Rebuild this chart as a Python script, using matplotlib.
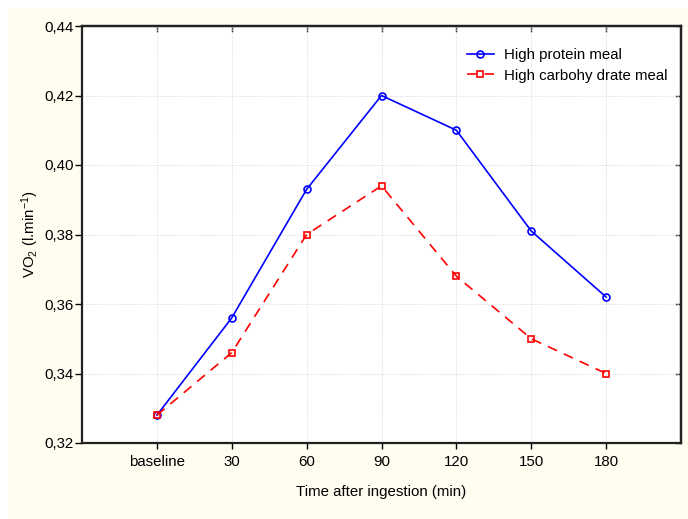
#!/usr/bin/env python3
import matplotlib
matplotlib.use("Agg")
import matplotlib.pyplot as plt
from matplotlib.patches import Rectangle
from matplotlib.ticker import FuncFormatter

# ---------------------------------------------------------------------------
# Data
# ---------------------------------------------------------------------------

time_labels = ["baseline", "30", "60", "90", "120", "150", "180"]
protein = [0.328, 0.356, 0.393, 0.420, 0.410, 0.381, 0.362]
carbs   = [0.328, 0.346, 0.380, 0.394, 0.368, 0.350, 0.340]
y_ticks = [0.32, 0.34, 0.36, 0.38, 0.40, 0.42, 0.44]

plt.rcParams["font.family"] = ["Liberation Sans", "DejaVu Sans"]
plt.rcParams["mathtext.fontset"] = "custom"
plt.rcParams["mathtext.rm"] = "Liberation Sans"
plt.rcParams["mathtext.it"] = "Liberation Sans:italic"

FS = 10.8

# ---------------------------------------------------------------------------
# Drawing
# ---------------------------------------------------------------------------

fig = plt.figure(figsize=(6.88, 5.19), dpi=100, facecolor="white")
# cream panel behind everything (drawn below the axes)
fig.patches.append(Rectangle((9 / 688, 0), 1, 510 / 519, transform=fig.transFigure,
                             color="#fffcf0", zorder=-10))

ax = fig.add_axes([82 / 688, 1 - 443 / 519, 599 / 688, 417 / 519])
ax.set_facecolor("white")

x = list(range(len(time_labels)))
ax.plot(x, protein, color="#0000ff", lw=1.2, marker="o", ms=5, mfc="none",
        mew=1.2, label="High protein meal", zorder=3)
ax.plot(x, carbs, color="#ff0000", lw=1.2, ls=(0, (6, 4.5)), marker="s", ms=5,
        mfc="none", mew=1.2, label="High carbohy drate meal", zorder=3)

ax.set_xlim(-1, 7)
ax.set_ylim(0.32, 0.44)
ax.set_xticks(x)
ax.set_xticklabels(time_labels)
ax.set_yticks(y_ticks)
ax.yaxis.set_major_formatter(FuncFormatter(lambda v, _: f"{v:.2f}".replace(".", ",")))

ax.grid(True, color="#dadada", lw=0.6, ls=(0, (1.5, 1.5)))
ax.tick_params(axis="x", direction="out", length=4, width=1.0,
               labelsize=FS, colors="black", pad=5)
ax.tick_params(axis="y", direction="out", length=5, width=1.0,
               labelsize=FS, colors="black", pad=1)
for spine in ax.spines.values():
    spine.set_linewidth(1.6)
    spine.set_color("#222222")

# inward ticks on top and right, as in the original
top = ax.secondary_xaxis("top")
top.set_xticks(x)
top.tick_params(direction="in", length=4, width=1.0, labeltop=False, color="#222222")
top.spines["top"].set_linewidth(1.6)
right = ax.secondary_yaxis("right")
right.set_yticks(y_ticks)
right.tick_params(direction="in", length=4, width=1.0, labelright=False, color="#222222")
right.spines["right"].set_linewidth(1.6)

ax.set_xlabel("Time after ingestion (min)", fontsize=FS, labelpad=11)
ax.set_ylabel("VO$_2$ (l.min$^{-1}$)", fontsize=FS)
ax.yaxis.set_label_coords(-0.068, 0.5)

ax.legend(loc="upper right", bbox_to_anchor=(1.0, 0.98), frameon=False,
          fontsize=FS, handlelength=1.8, handletextpad=0.7, labelspacing=0.45)

fig.savefig("out.png", dpi=100, facecolor=fig.get_facecolor())
